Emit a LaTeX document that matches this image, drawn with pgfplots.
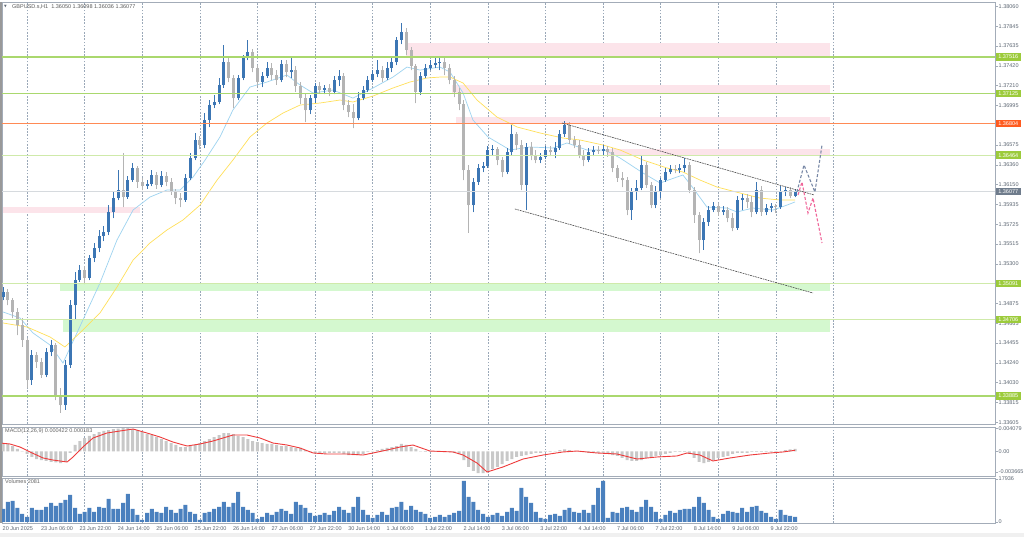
\documentclass[border=0pt]{standalone}
\usepackage{fontspec}
\setmainfont{Liberation Sans}
\newfontfamily\dejavu{DejaVu Sans}
\usepackage{pgfplots}
\usepackage{pgfplotstable}
\pgfplotsset{compat=1.18}

\definecolor{bullc}{HTML}{3C76B4}
\definecolor{bearc}{HTML}{B4B4B4}
\definecolor{volc}{HTML}{4A80BE}
\definecolor{histc}{HTML}{C8C8C8}
\definecolor{sigc}{HTML}{EE3B3B}
\definecolor{fastma}{HTML}{9DD3F0}
\definecolor{slowma}{HTML}{FFE05A}
\definecolor{lvl}{HTML}{AAD86E}
\definecolor{lvlpale}{HTML}{CFEAAA}
\definecolor{orangeline}{HTML}{FF8A55}
\definecolor{pinkzone}{HTML}{FCE4EA}
\definecolor{greenzone}{HTML}{D4F8CF}
\definecolor{taggreen}{HTML}{9CCB3B}
\definecolor{tagorange}{HTML}{FF5B1F}
\definecolor{tagslate}{HTML}{6F7C8C}
\definecolor{nowline}{HTML}{D6DADE}
\definecolor{txtc}{HTML}{5E6874}
\definecolor{framec}{HTML}{A3ACB8}
\definecolor{gridc}{HTML}{9AA8B8}
\definecolor{chanc}{HTML}{4A4A4A}
\definecolor{projup}{HTML}{7888A6}
\definecolor{projdn}{HTML}{F0679A}

\newcommand\mtfont{\fontsize{5.5}{6.6}\selectfont}

% H1 bars grouped by two: bar index b (0 = 23 Jun 00:00)
\pgfplotstableread{
b O H L C
-10 1.34945 1.35052 1.34913 1.34999
-8 1.34999 1.35031 1.34859 1.34913
-6 1.34913 1.34934 1.34720 1.34784
-4 1.34784 1.34827 1.34538 1.34645
-2 1.34645 1.34720 1.34410 1.34485
0 1.34485 1.34506 1.33971 1.34056
2 1.34056 1.34378 1.34003 1.34324
4 1.34324 1.34356 1.34185 1.34249
6 1.34249 1.34292 1.34078 1.34110
8 1.34110 1.34399 1.34088 1.34356
10 1.34356 1.34485 1.34313 1.34431
12 1.34431 1.34452 1.33842 1.33896
14 1.33896 1.33971 1.33703 1.33788
16 1.33788 1.34270 1.33735 1.34217
18 1.34217 1.34913 1.34185 1.34859
20 1.34859 1.35213 1.34699 1.35127
22 1.35127 1.35288 1.35106 1.35234
24 1.35234 1.35277 1.35084 1.35149
26 1.35149 1.35395 1.35127 1.35363
28 1.35363 1.35523 1.35320 1.35470
30 1.35470 1.35663 1.35427 1.35598
32 1.35598 1.35706 1.35545 1.35641
34 1.35641 1.35930 1.35609 1.35855
36 1.35855 1.36070 1.35791 1.36005
38 1.36005 1.36305 1.35984 1.36091
40 1.36091 1.36487 1.35909 1.36016
42 1.36016 1.36241 1.35995 1.36198
44 1.36198 1.36380 1.36177 1.36327
46 1.36327 1.36348 1.36113 1.36177
48 1.36177 1.36220 1.36091 1.36134
50 1.36134 1.36198 1.36102 1.36155
52 1.36155 1.36305 1.36134 1.36252
54 1.36252 1.36284 1.36102 1.36145
56 1.36145 1.36295 1.36123 1.36241
58 1.36241 1.36284 1.36134 1.36177
60 1.36177 1.36220 1.36038 1.36070
62 1.36070 1.36102 1.35941 1.36005
64 1.36005 1.36059 1.35909 1.35984
66 1.35984 1.36262 1.35963 1.36220
68 1.36220 1.36487 1.36198 1.36434
70 1.36434 1.36702 1.36412 1.36627
72 1.36627 1.36669 1.36530 1.36573
74 1.36573 1.36916 1.36541 1.36841
76 1.36841 1.37055 1.36766 1.37001
78 1.37001 1.37109 1.36969 1.37034
80 1.37034 1.37291 1.37012 1.37216
82 1.37216 1.37644 1.37184 1.37462
84 1.37462 1.37505 1.37248 1.37291
86 1.37291 1.37323 1.36969 1.37076
88 1.37076 1.37323 1.37055 1.37291
90 1.37291 1.37537 1.37269 1.37505
92 1.37505 1.37698 1.37483 1.37569
94 1.37569 1.37601 1.37355 1.37398
96 1.37398 1.37430 1.37205 1.37248
98 1.37248 1.37355 1.37194 1.37312
100 1.37312 1.37462 1.37291 1.37398
102 1.37398 1.37451 1.37269 1.37323
104 1.37323 1.37376 1.37216 1.37269
106 1.37269 1.37483 1.37248 1.37441
108 1.37441 1.37483 1.37301 1.37355
110 1.37355 1.37505 1.37291 1.37376
112 1.37376 1.37419 1.37141 1.37205
114 1.37205 1.37248 1.37012 1.37076
116 1.37076 1.37119 1.36819 1.36948
118 1.36948 1.37109 1.36905 1.37076
120 1.37076 1.37237 1.37023 1.37205
122 1.37205 1.37248 1.37130 1.37162
124 1.37162 1.37216 1.37119 1.37184
126 1.37184 1.37226 1.37098 1.37141
128 1.37141 1.37312 1.37119 1.37269
130 1.37269 1.37376 1.37205 1.37312
132 1.37312 1.37344 1.36948 1.37001
134 1.37001 1.37055 1.36873 1.36926
136 1.36926 1.37012 1.36755 1.36862
138 1.36862 1.37141 1.36841 1.37076
140 1.37076 1.37205 1.37055 1.37162
142 1.37162 1.37312 1.37141 1.37269
144 1.37269 1.37376 1.37248 1.37333
146 1.37333 1.37483 1.37301 1.37376
148 1.37376 1.37419 1.37248 1.37291
150 1.37291 1.37462 1.37269 1.37398
152 1.37398 1.37505 1.37355 1.37462
154 1.37462 1.37730 1.37430 1.37698
156 1.37698 1.37880 1.37655 1.37783
158 1.37783 1.37826 1.37537 1.37591
160 1.37591 1.37623 1.37376 1.37419
162 1.37419 1.37441 1.37023 1.37141
164 1.37141 1.37355 1.37109 1.37312
166 1.37312 1.37441 1.37291 1.37398
168 1.37398 1.37483 1.37376 1.37430
170 1.37430 1.37505 1.37398 1.37451
172 1.37451 1.37505 1.37376 1.37462
174 1.37462 1.37505 1.37323 1.37398
176 1.37398 1.37441 1.37226 1.37269
178 1.37269 1.37312 1.37087 1.37141
180 1.37141 1.37184 1.36948 1.37012
182 1.37012 1.37055 1.36198 1.36305
184 1.36305 1.36359 1.35631 1.35930
186 1.35930 1.36220 1.35855 1.36177
188 1.36177 1.36370 1.36145 1.36327
190 1.36327 1.36391 1.36284 1.36348
192 1.36348 1.36562 1.36327 1.36520
194 1.36520 1.36573 1.36466 1.36530
196 1.36530 1.36552 1.36359 1.36412
198 1.36412 1.36445 1.36230 1.36284
200 1.36284 1.36541 1.36262 1.36498
202 1.36498 1.36787 1.36466 1.36691
204 1.36691 1.36712 1.36520 1.36573
206 1.36573 1.36627 1.36091 1.36145
208 1.36145 1.36594 1.35877 1.36552
210 1.36552 1.36605 1.36412 1.36455
212 1.36455 1.36520 1.36380 1.36412
214 1.36412 1.36487 1.36380 1.36445
216 1.36445 1.36562 1.36423 1.36520
218 1.36520 1.36562 1.36455 1.36498
220 1.36498 1.36605 1.36434 1.36541
222 1.36541 1.36734 1.36520 1.36691
224 1.36691 1.36830 1.36659 1.36787
226 1.36787 1.36819 1.36584 1.36627
228 1.36627 1.36669 1.36541 1.36573
230 1.36573 1.36627 1.36434 1.36466
232 1.36466 1.36520 1.36348 1.36412
234 1.36412 1.36541 1.36391 1.36498
236 1.36498 1.36562 1.36455 1.36520
238 1.36520 1.36562 1.36477 1.36509
240 1.36509 1.36573 1.36466 1.36530
242 1.36530 1.36562 1.36445 1.36498
244 1.36498 1.36541 1.36284 1.36327
246 1.36327 1.36359 1.36177 1.36220
248 1.36220 1.36284 1.36123 1.36198
250 1.36198 1.36230 1.35823 1.35877
252 1.35877 1.36113 1.35770 1.36070
254 1.36070 1.36198 1.35984 1.36113
256 1.36113 1.36466 1.36091 1.36359
258 1.36359 1.36391 1.36113 1.36145
260 1.36145 1.36177 1.35898 1.35930
262 1.35930 1.36134 1.35898 1.36070
264 1.36070 1.36220 1.36005 1.36198
266 1.36198 1.36327 1.36177 1.36284
268 1.36284 1.36359 1.36262 1.36316
270 1.36316 1.36359 1.36273 1.36305
272 1.36305 1.36370 1.36273 1.36327
274 1.36327 1.36434 1.36284 1.36359
276 1.36359 1.36391 1.36059 1.36091
278 1.36091 1.36123 1.35738 1.35823
280 1.35823 1.35855 1.35416 1.35556
282 1.35556 1.35791 1.35449 1.35748
284 1.35748 1.35920 1.35706 1.35877
286 1.35877 1.35963 1.35855 1.35920
288 1.35920 1.35952 1.35813 1.35855
290 1.35855 1.35920 1.35823 1.35877
292 1.35877 1.35909 1.35748 1.35791
294 1.35791 1.35845 1.35652 1.35684
296 1.35684 1.36027 1.35663 1.35984
298 1.35984 1.36048 1.35877 1.36005
300 1.36005 1.36048 1.35898 1.35963
302 1.35963 1.36027 1.35802 1.35855
304 1.35855 1.36177 1.35834 1.36091
306 1.36091 1.36134 1.35813 1.35855
308 1.35855 1.35941 1.35823 1.35898
310 1.35898 1.35952 1.35855 1.35920
312 1.35920 1.35941 1.35845 1.35909
314 1.35909 1.36134 1.35888 1.36070
316 1.36070 1.36123 1.36027 1.36091
318 1.36091 1.36123 1.36005 1.36027
320 1.36027 1.36098 1.36016 1.36077
}\candles

% volume and MACD main line per bar
\pgfplotstableread{
b V h
-10 5421 0.00147
-8 8340 0.00130
-6 8757 0.00094
-4 5838 0.00041
-2 3336 0.00005
0 2085 -0.00048
2 5838 -0.00101
4 5004 -0.00137
6 5004 -0.00155
8 6255 -0.00172
10 7923 -0.00190
12 6672 -0.00199
14 7923 -0.00208
16 9174 -0.00190
18 11259 -0.00030
20 5838 0.00112
22 3336 0.00183
24 4170 0.00236
26 5838 0.00272
28 4170 0.00307
30 6255 0.00343
32 5838 0.00361
34 9591 0.00378
36 5421 0.00396
38 5421 0.00405
40 7923 0.00414
42 11676 0.00414
44 5421 0.00396
46 2919 0.00378
48 834 0.00343
50 3753 0.00307
52 5421 0.00289
54 4170 0.00254
56 3753 0.00218
58 6255 0.00183
60 5004 0.00147
62 3753 0.00112
64 5421 0.00076
66 7089 0.00076
68 4170 0.00094
70 3336 0.00112
72 834 0.00147
74 3753 0.00183
76 4170 0.00218
78 5421 0.00254
80 6255 0.00289
82 8340 0.00325
84 6255 0.00325
86 7923 0.00307
88 12510 0.00272
90 6255 0.00254
92 5004 0.00218
94 3753 0.00183
96 1251 0.00165
98 2085 0.00147
100 3753 0.00130
102 2919 0.00130
104 4170 0.00112
106 5421 0.00094
108 4587 0.00094
110 3336 0.00076
112 8340 0.00059
114 7089 0.00059
116 5838 0.00023
118 3753 -0.00012
120 2502 -0.00030
122 2919 -0.00030
124 3753 -0.00030
126 2919 -0.00030
128 4587 -0.00030
130 6255 -0.00030
132 5004 -0.00048
134 3753 -0.00066
136 6255 -0.00066
138 10425 -0.00066
140 5004 -0.00048
142 2919 -0.00012
144 1668 0.00005
146 2919 0.00023
148 4170 0.00041
150 2919 0.00059
152 5838 0.00076
154 6255 0.00094
156 8340 0.00130
158 5004 0.00112
160 6672 0.00076
162 5004 0.00041
164 4170 0.00005
166 3336 -0.00012
168 1668 -0.00012
170 2085 -0.00012
172 2919 -0.00012
174 2085 -0.00012
176 2919 -0.00012
178 3753 -0.00030
180 4587 -0.00048
182 17097 -0.00155
184 10425 -0.00279
186 8340 -0.00350
188 5004 -0.00386
190 3336 -0.00386
192 2085 -0.00368
194 2919 -0.00314
196 3753 -0.00279
198 2502 -0.00226
200 4170 -0.00172
202 5838 -0.00137
204 4587 -0.00101
206 14178 -0.00083
208 10425 -0.00066
210 7923 -0.00048
212 4170 -0.00030
214 1668 -0.00030
216 1251 -0.00012
218 2919 -0.00012
220 3336 0.00005
222 2502 0.00023
224 5004 0.00032
226 5838 0.00023
228 4170 0.00005
230 3753 0.00005
232 5004 -0.00012
234 3753 -0.00030
236 7089 -0.00030
238 14178 -0.00030
240 17097 -0.00030
242 1668 -0.00048
244 4170 -0.00066
246 3753 -0.00083
248 5838 -0.00119
250 6255 -0.00155
252 5004 -0.00172
254 4170 -0.00172
256 6255 -0.00155
258 9174 -0.00119
260 6255 -0.00101
262 4170 -0.00083
264 1251 -0.00066
266 2919 -0.00048
268 4587 -0.00030
270 3753 -0.00012
272 5004 -0.00012
274 5421 -0.00012
276 5421 -0.00048
278 6255 -0.00119
280 10425 -0.00190
282 7923 -0.00208
284 5004 -0.00190
286 2085 -0.00155
288 1251 -0.00119
290 3336 -0.00101
292 4587 -0.00083
294 4170 -0.00048
296 3753 -0.00030
298 5838 -0.00030
300 4170 -0.00030
302 6255 -0.00012
304 6672 -0.00012
306 4587 -0.00012
308 3753 -0.00012
310 2085 -0.00012
312 1251 -0.00012
314 5004 0.00005
316 2919 0.00023
318 2502 0.00032
320 2085 0.00042
}\ind

\pgfplotsset{
  mtpanel/.style={
    scale only axis, width=993pt, anchor=south west,
    xmin=-10.417, xmax=403.333,
    axis line style={framec, line width=0.6pt},
    xtick={0,24,...,336}, xticklabels={},
    xmajorgrids,
    grid style={gridc, line width=0.5pt, dash pattern=on 1.6pt off 1.6pt},
    xtick style={draw=none},
    ytick pos=right, yticklabel pos=right,
    tick align=outside, major tick length=2.5pt,
    ytick style={framec, line width=0.5pt},
    yticklabel style={font=\mtfont, text=txtc, inner sep=1pt},
    scaled ticks=false,
  },
  candle/.style={only marks, mark size=0pt, mark options={draw=none, fill=none}},
  hline/.style={line width=1.3pt, mark=none},
}
\tikzset{
  tag/.style={anchor=west, font=\mtfont, text=white, inner xsep=2.5pt,
    inner ysep=0.8pt, minimum height=7.5pt, xshift=0.6pt},
}

\begin{document}
\begin{tikzpicture}
\useasboundingbox (0,0) rectangle (1024pt,537pt);
\fill[white] (0,0) rectangle (1024pt,537pt);
\fill[black!6] (0,0) rectangle (1024pt,4pt);
\fill[black!40] (0,14pt) rectangle (1.6pt,535pt);

% price panel
\begin{axis}[mtpanel, at={(2pt,113pt)}, height=422pt,
  ymin=1.33585, ymax=1.38105,
  ytick={1.33605,1.33815,1.34030,1.34240,1.34455,1.34665,1.34875,1.35090,1.35300,1.35515,1.35725,1.35935,1.36150,1.36360,1.36575,1.36785,1.36995,1.37210,1.37420,1.37635,1.37845,1.38060},
  yticklabels={1.33605,1.33815,1.34030,1.34240,1.34455,1.34665,1.34875,1.35090,1.35300,1.35515,1.35725,1.35935,1.36150,1.36360,1.36575,1.36785,1.36995,1.37210,1.37420,1.37635,1.37845,1.38060}]

% supply / demand zones
\addplot[fill=pinkzone, draw=none] coordinates {(158,1.37665) (334.6,1.37665) (334.6,1.37516) (158,1.37516)};
\addplot[fill=pinkzone, draw=none] coordinates {(177,1.37216) (334.6,1.37216) (334.6,1.37130) (177,1.37130)};
\addplot[fill=pinkzone, draw=none] coordinates {(178.7,1.36873) (334.6,1.36873) (334.6,1.36798) (178.7,1.36798)};
\addplot[fill=pinkzone, draw=none] coordinates {(242,1.36530) (334.6,1.36530) (334.6,1.36466) (242,1.36466)};
\addplot[fill=pinkzone, draw=none] coordinates {(-10,1.35909) (47.1,1.35909) (47.1,1.35845) (-10,1.35845)};
\addplot[fill=greenzone, draw=none] coordinates {(13.8,1.35095) (334.6,1.35095) (334.6,1.35009) (13.8,1.35009)};
\addplot[fill=greenzone, draw=none] coordinates {(15,1.34699) (334.6,1.34699) (334.6,1.34570) (15,1.34570)};

% moving averages
\addplot[color=fastma, line width=0.7pt] coordinates {
(-10,1.34785) (-2.9,1.34720) (2.5,1.34560) (9.6,1.34431) (15,1.34238) (20.8,1.34560)
(30.4,1.35095) (37.5,1.35556) (44.2,1.35877) (51.25,1.36016) (58.3,1.36091) (63.75,1.36091)
(69.2,1.36230) (74.2,1.36412) (80.4,1.36659) (85.8,1.36948) (92.9,1.37194) (100,1.37248)
(108.3,1.37323) (113.75,1.37216) (119.2,1.37130) (127.5,1.37162) (135.8,1.37076) (144.2,1.37184)
(152.5,1.37301) (158.3,1.37408) (163.75,1.37376) (172.1,1.37408) (176.25,1.37355) (181.7,1.37130)
(185.8,1.36841) (192.1,1.36659) (201.25,1.36520) (209.6,1.36552) (219.2,1.36541) (225,1.36595)
(233.3,1.36520) (240.8,1.36520) (247.1,1.36434) (256.7,1.36273) (263.75,1.36166) (270.8,1.36230)
(273.3,1.36252) (277.5,1.36113) (283.3,1.35909) (291.7,1.35898) (295.8,1.35856) (302.5,1.35898)
(310.8,1.35877) (316.7,1.35930) (320,1.35963)};
\addplot[color=slowma, line width=0.7pt] coordinates {
(-10,1.34667) (0,1.34624) (9.6,1.34517) (15.8,1.34410) (23.3,1.34592) (30.4,1.34774)
(37.5,1.35052) (44.2,1.35341) (51.25,1.35524) (58.3,1.35663) (65,1.35770) (72.1,1.35930)
(79.2,1.36198) (85.8,1.36412) (92.9,1.36659) (100,1.36809) (106.7,1.36916) (113.75,1.37001)
(122.1,1.37023) (130.4,1.37055) (135.8,1.37034) (144.2,1.37098) (152.5,1.37184) (159.6,1.37248)
(166.7,1.37291) (172.1,1.37301) (176.25,1.37301) (181.7,1.37237) (187.5,1.37055) (195.8,1.36873)
(204.2,1.36766) (213.75,1.36702) (223.3,1.36648) (230.4,1.36627) (240,1.36573) (247.1,1.36520)
(256.7,1.36412) (266.7,1.36327) (273.3,1.36284) (280.4,1.36198) (287.5,1.36123) (297.1,1.36059)
(305.4,1.36005) (313.75,1.35984) (320,1.35984)};

% candles: wicks then bodies
\addplot[candle, restrict expr to domain={\thisrow{C}-\thisrow{O}}{-1:0},
  error bars/.cd, y dir=plus, y explicit, error mark=none,
  error bar style={draw=bearc, line width=0.8pt}]
  table[x=b, y=L, y error plus expr=\thisrow{H}-\thisrow{L}] {\candles};
\addplot[candle, restrict expr to domain={\thisrow{C}-\thisrow{O}}{-1:0},
  error bars/.cd, y dir=plus, y explicit, error mark=none,
  error bar style={draw=bearc, line width=3pt}]
  table[x=b, y=C, y error plus expr=\thisrow{O}-\thisrow{C}] {\candles};
\addplot[candle, restrict expr to domain={\thisrow{C}-\thisrow{O}}{0:1},
  error bars/.cd, y dir=plus, y explicit, error mark=none,
  error bar style={draw=bullc, line width=0.8pt}]
  table[x=b, y=L, y error plus expr=\thisrow{H}-\thisrow{L}] {\candles};
\addplot[candle, restrict expr to domain={\thisrow{C}-\thisrow{O}}{0:1},
  error bars/.cd, y dir=plus, y explicit, error mark=none,
  error bar style={draw=bullc, line width=3pt}]
  table[x=b, y=O, y error plus expr=\thisrow{C}-\thisrow{O}] {\candles};

% horizontal levels
\addplot[hline, color=lvl] coordinates {(-10.417,1.37516) (403.333,1.37516)};
\addplot[hline, color=lvl] coordinates {(-10.417,1.37125) (403.333,1.37125)};
\addplot[hline, color=orangeline] coordinates {(-10.417,1.36804) (403.333,1.36804)};
\addplot[hline, color=lvlpale] coordinates {(-10.417,1.36464) (403.333,1.36464)};
\addplot[color=nowline, line width=0.8pt] coordinates {(-10.417,1.36077) (403.333,1.36077)};
\addplot[hline, color=lvlpale] coordinates {(-10.417,1.35091) (403.333,1.35091)};
\addplot[hline, color=lvlpale] coordinates {(-10.417,1.34706) (403.333,1.34706)};
\addplot[hline, color=lvl] coordinates {(-10.417,1.33885) (403.333,1.33885)};

% descending channel
\addplot[color=chanc, line width=0.6pt, dash pattern=on 1.8pt off 0.8pt] coordinates {(222.9,1.36809) (328,1.36038)};
\addplot[color=chanc, line width=0.6pt, dash pattern=on 1.8pt off 0.8pt] coordinates {(203.3,1.35888) (327.5,1.34988)};

% scenarios
\addplot[color=projup, line width=1.1pt, dash pattern=on 3pt off 1.8pt] coordinates {(320.8,1.36070) (323.75,1.36359) (328.3,1.36070) (331.25,1.36573)};
\addplot[color=projdn, line width=1.1pt, dash pattern=on 3pt off 1.8pt] coordinates {(321.25,1.36038) (322.9,1.36177) (325.4,1.35845) (327.5,1.36005) (331.25,1.35524)};

\coordinate (t1) at (axis cs:403.333,1.37516);
\coordinate (t2) at (axis cs:403.333,1.37125);
\coordinate (t3) at (axis cs:403.333,1.36804);
\coordinate (t4) at (axis cs:403.333,1.36464);
\coordinate (t5) at (axis cs:403.333,1.36077);
\coordinate (t6) at (axis cs:403.333,1.35091);
\coordinate (t7) at (axis cs:403.333,1.34706);
\coordinate (t8) at (axis cs:403.333,1.33885);
\end{axis}

% MACD panel
\begin{axis}[mtpanel, at={(2pt,61pt)}, height=49pt,
  ymin=-0.00439, ymax=0.00432,
  ytick={-0.003665,0,0.004079}, yticklabels={-0.003665,0.00,0.004079}]
\addplot[ybar, bar width=3pt, bar shift=0pt, fill=histc, draw=none] table[x=b, y=h] {\ind};
\addplot[color=sigc, line width=0.9pt] coordinates {
(-11.25,0.00147) (-7.1,0.00130) (-2.9,0.00076) (1.25,-0.00012) (6.7,-0.00119) (10.8,-0.00155)
(16.7,-0.00190) (19.2,-0.00101) (23.3,0.00076) (27.5,0.00236) (33.3,0.00325) (38.75,0.00361)
(44.2,0.00396) (50,0.00325) (55.4,0.00254) (60.8,0.00165) (66.7,0.00094) (72.1,0.00130)
(77.5,0.00183) (85.8,0.00289) (91.7,0.00289) (97.1,0.00236) (102.5,0.00147) (108.3,0.00112)
(113.75,0.00059) (119.2,-0.00030) (125,-0.00048) (133.3,-0.00048) (140,-0.00066) (144.2,-0.00030)
(150,0.00023) (155.4,0.00076) (160.8,0.00112) (167.9,0.00005) (177.5,-0.00012) (181.7,-0.00066)
(187.5,-0.00208) (191.7,-0.00368) (198.3,-0.00279) (206.7,-0.00137) (215,-0.00066) (223.3,-0.00012)
(229.2,0.00005) (237.5,-0.00030) (245.8,-0.00048) (254.2,-0.00137) (262.5,-0.00101) (270.8,-0.00083)
(275,-0.00030) (280.4,-0.00066) (285.8,-0.00172) (292.9,-0.00119) (301.25,-0.00066) (309.6,-0.00030)
(315,-0.00012) (320,0.00018)};
\end{axis}

% volume panel with the time scale
\begin{axis}[mtpanel, at={(2pt,14pt)}, height=45pt,
  ymin=-417, ymax=18348,
  ytick={0,17936}, yticklabels={0,17936},
  xticklabel style={anchor=north west, font=\mtfont, text=txtc, inner sep=0pt, yshift=-3pt, xshift=-0.5pt},
  extra x ticks={-10,6,...,310},
  extra x tick labels={20 Jun 2025,23 Jun 06:00,23 Jun 22:00,24 Jun 14:00,25 Jun 06:00,25 Jun 22:00,26 Jun 14:00,27 Jun 06:00,27 Jun 22:00,30 Jun 14:00,1 Jul 06:00,1 Jul 22:00,2 Jul 14:00,3 Jul 06:00,3 Jul 22:00,4 Jul 14:00,7 Jul 06:00,7 Jul 22:00,8 Jul 14:00,9 Jul 06:00,9 Jul 22:00},
  extra x tick style={grid=none, major tick length=0pt}]
\addplot[ybar, bar width=4pt, bar shift=0pt, fill=volc, draw=none] table[x=b, y=V] {\ind};
\end{axis}

% price tags on the scale
\node[tag, fill=taggreen] at (t1) {1.37516};
\node[tag, fill=taggreen] at (t2) {1.37125};
\node[tag, fill=tagorange] at (t3) {1.36804};
\node[tag, fill=taggreen] at (t4) {1.36464};
\node[tag, fill=tagslate] at (t5) {1.36077};
\node[tag, fill=taggreen] at (t6) {1.35091};
\node[tag, fill=taggreen] at (t7) {1.34706};
\node[tag, fill=taggreen] at (t8) {1.33885};

% panel captions
\node[anchor=west, inner sep=0pt, text=txtc] at (4pt,530pt) {\dejavu\fontsize{3.5}{4}\selectfont ▼};
\node[anchor=west, inner sep=0pt, font=\mtfont, text=black!65] at (12pt,530pt) {GBPUSD.s,H1\ \ 1.36050 1.36098 1.36036 1.36077};
\node[anchor=west, inner sep=0pt, font=\mtfont, text=black!60] at (5pt,106pt) {MACD(12,26,9) 0.000422 0.000183};
\node[anchor=west, inner sep=0pt, font=\mtfont, text=black!60] at (5pt,55pt) {Volumes 2081};
\end{tikzpicture}
\end{document}
